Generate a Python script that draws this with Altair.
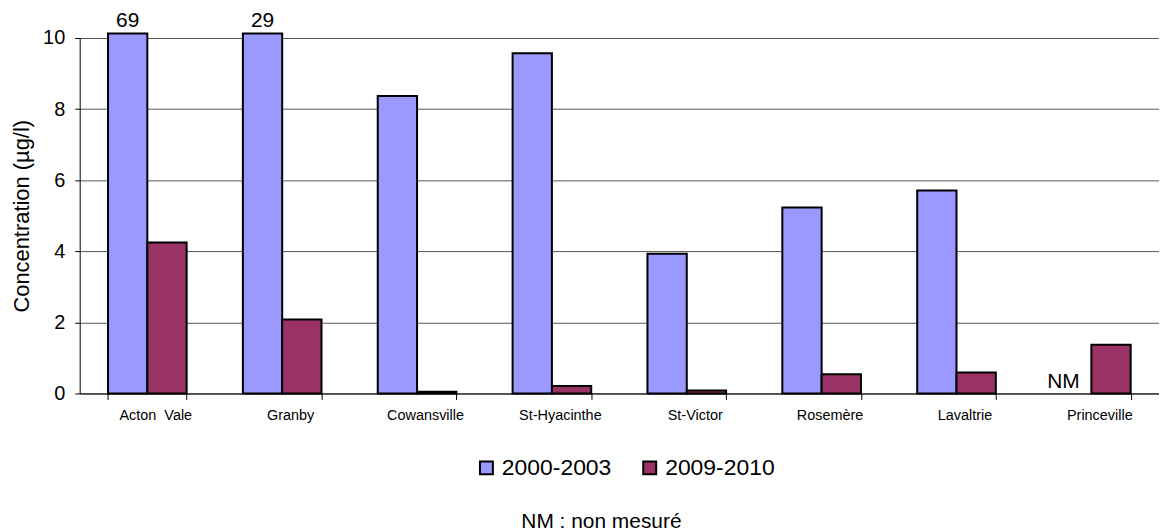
import altair as alt
import pandas as pd

categories = ["Acton\u00a0 Vale", "Granby", "Cowansville", "St-Hyacinthe",
              "St-Victor", "Rosemère", "Lavaltrie", "Princeville"]
series = ["2000-2003", "2009-2010"]
v2000 = [69, 29, 8.37, 9.57, 3.93, 5.23, 5.71, None]
v2009 = [4.25, 2.08, 0.05, 0.21, 0.08, 0.54, 0.59, 1.37]
colors = ["#9999FF", "#993366"]
y_title = "Concentration (µg/l)"
note = "NM : non mesuré"
y_ticks = [0, 2, 4, 6, 8, 10]

rows = []
for c, a, b in zip(categories, v2000, v2009):
    rows.append({"site": c, "period": series[0], "value": a})
    rows.append({"site": c, "period": series[1], "value": b})
df = pd.DataFrame(rows)

FONT = "Liberation Sans"

x_enc = alt.X(
    "site:N", sort=categories, title=None,
    scale=alt.Scale(paddingInner=0.417, paddingOuter=0.21),
    axis=alt.Axis(labelAngle=0, labelFontSize=14.5, labelFont=FONT, labelColor="black",
                  tickBand="extent", tickSize=6, tickColor="black", domainColor="black",
                  labelPadding=9, grid=False, labelOffset=8),
)
xo_enc = alt.XOffset("period:N", sort=series)
y_enc = alt.Y(
    "shown:Q", title=y_title,
    scale=alt.Scale(domain=[0, 10], nice=False, zero=True),
    axis=alt.Axis(values=y_ticks, labelFontSize=20, labelFont=FONT, labelColor="black",
                  tickSize=5, tickColor="black", domainColor="black", labelPadding=10,
                  gridColor="#555555", gridWidth=1, titleFontSize=22, titleFont=FONT,
                  titleFontWeight="normal", titleColor="black", titlePadding=9),
)
color_enc = alt.Color(
    "period:N", sort=series,
    scale=alt.Scale(domain=series, range=colors),
    legend=alt.Legend(orient="none", legendX=397, legendY=420, direction="horizontal",
                      title=None, symbolType="square", symbolSize=169,
                      symbolStrokeColor="black", symbolStrokeWidth=2, symbolOpacity=1,
                      labelFontSize=23, labelFont=FONT, labelColor="black",
                      columnPadding=27, labelOffset=4, padding=0),
)

base = alt.Chart(df).transform_calculate(
    shown="datum.value == null ? 0 : min(datum.value, 10.13)"
)

bars = base.transform_filter("datum.value != null").mark_bar(
    stroke="black", strokeWidth=2
).encode(x=x_enc, xOffset=xo_enc, y=y_enc, color=color_enc)

big = base.transform_filter("datum.value != null && datum.value > 10").transform_calculate(
    label="format(datum.value, 'd')"
).mark_text(font=FONT, fontSize=21, color="black", baseline="bottom", dy=-2).encode(
    x=x_enc, xOffset=xo_enc, y=y_enc, text="label:N"
)

nm = base.transform_filter("datum.value == null").transform_calculate(
    label="'NM'"
).mark_text(font=FONT, fontSize=21, color="black", baseline="alphabetic", align="right",
            dy=-5, dx=8).encode(
    x=x_enc, xOffset=xo_enc, y=y_enc, text="label:N"
)

note_layer = alt.Chart(pd.DataFrame({"t": [note]})).mark_text(
    font=FONT, fontSize=21, color="black", baseline="alphabetic", align="center"
).encode(text="t:N", x=alt.value(524), y=alt.value(492))

chart = alt.layer(bars, big, nm, note_layer).properties(
    width=1084, height=357,
    autosize=alt.AutoSizeParams(type="none"),
    padding={"left": 72, "top": 29, "right": 0, "bottom": 138},
).configure_view(stroke=None)

chart.save("out.html", embed_options={"renderer": "svg", "actions": False})
